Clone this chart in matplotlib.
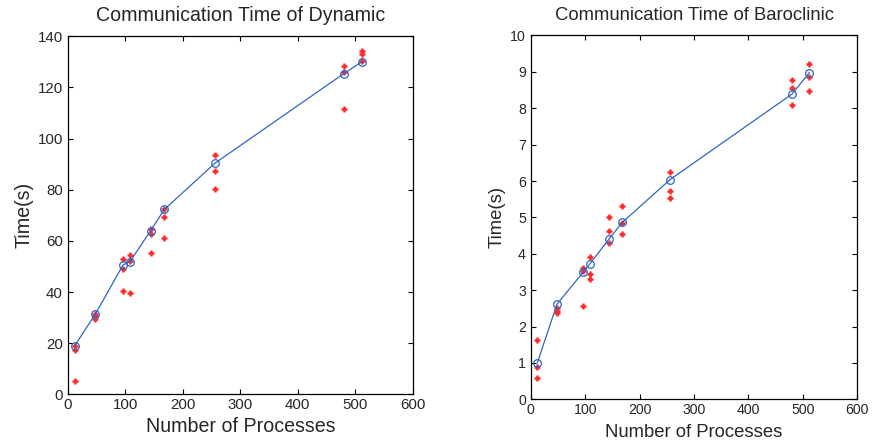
import matplotlib
matplotlib.use("Agg")
import matplotlib.pyplot as plt

# ---- data ----
procs = [12, 48, 96, 108, 144, 168, 256, 480, 512]

dyn_fit = [19.0, 31.4, 50.6, 51.8, 64.0, 72.3, 90.4, 125.4, 130.1]
dyn_run1 = [18.8, 31.5, 52.9, 54.3, 64.5, 72.5, 93.5, 128.4, 134.4]
dyn_run2 = [17.2, 30.5, 49.0, 52.0, 62.6, 69.2, 87.4, 126.0, 133.2]
dyn_run3 = [5.2, 29.5, 40.5, 39.6, 55.2, 61.3, 80.4, 111.4, 130.5]

bar_fit = [1.0, 2.61, 3.49, 3.71, 4.41, 4.86, 6.04, 8.39, 8.98]
bar_run1 = [1.62, 2.50, 3.62, 3.92, 5.01, 5.31, 6.24, 8.79, 9.23]
bar_run2 = [0.90, 2.42, 3.52, 3.44, 4.62, 4.85, 5.72, 8.57, 8.86]
bar_run3 = [0.59, 2.38, 2.56, 3.31, 4.29, 4.54, 5.52, 8.09, 8.47]

titles = ["Communication Time of Dynamic", "Communication Time of Baroclinic"]
xlabel = "Number of Processes"
ylabel = "Time(s)"
xticks = [0, 100, 200, 300, 400, 500, 600]
dyn_yticks = [0, 20, 40, 60, 80, 100, 120, 140]
bar_yticks = list(range(0, 11))

plt.rcParams['font.family'] = ['Liberation Sans', 'DejaVu Sans']
TXT = '#262626'
RED = '#ff2b2b'
BLUE = '#2f66c2'

fig = plt.figure(figsize=(8.73, 4.47), dpi=100)

def panel(rect, fit, runs, yticks, title, fs_lab, fs_tick, xl_y, yl_x, t_y):
    ax = fig.add_axes(rect)
    for r in runs:
        ax.plot(procs, r, linestyle='none', marker='+', ms=5, mew=1.8,
                color=RED, zorder=2)
    ax.plot(procs, fit, '-', color=BLUE, lw=0.9, marker='o', ms=5.5,
            mfc='none', mec=BLUE, mew=0.9, zorder=3)
    ax.set_xlim(0, 600)
    ax.set_ylim(yticks[0], yticks[-1])
    ax.set_xticks(xticks)
    ax.set_yticks(yticks)
    ax.tick_params(direction='in', top=True, right=True, length=3.5,
                   width=0.8, labelsize=fs_tick, colors='black',
                   labelcolor=TXT)
    ax.tick_params(axis='x', pad=2.5)
    ax.tick_params(axis='y', pad=3.5)
    for s in ax.spines.values():
        s.set_linewidth(0.9)
        s.set_color('black')
    ax.set_xlabel(xlabel, fontsize=fs_lab, color=TXT, va='center')
    ax.xaxis.set_label_coords(0.5, xl_y)
    ax.set_ylabel(ylabel, fontsize=fs_lab, color=TXT, va='center')
    ax.yaxis.set_label_coords(yl_x, 0.5)
    ax.text(0.5, t_y, title, transform=ax.transAxes, ha='center',
            va='center', fontsize=fs_lab, color=TXT)
    return ax

panel([0.0777, 0.1179, 0.3951, 0.8009], dyn_fit,
      [dyn_run1, dyn_run2, dyn_run3], dyn_yticks, titles[0],
      14.1, 10.8, -0.091, -0.127, 1.057)
panel([0.6080, 0.1067, 0.3740, 0.8139], bar_fit,
      [bar_run1, bar_run2, bar_run3], bar_yticks, titles[1],
      13.3, 10.2, -0.090, -0.1035, 1.055)

fig.savefig("out.png", dpi=100)
